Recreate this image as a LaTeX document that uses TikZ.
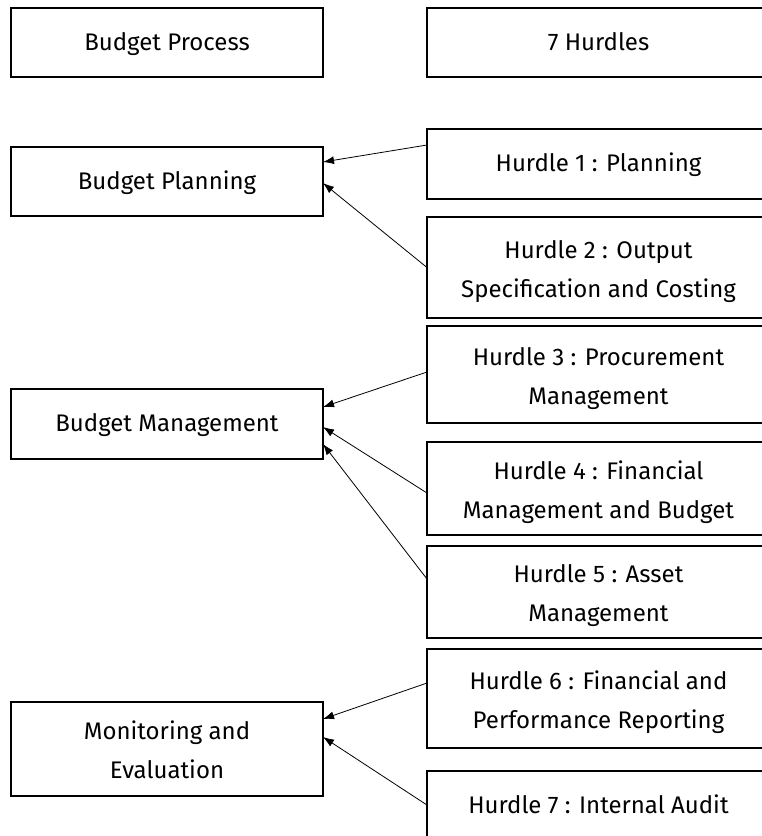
\documentclass[tikz,border=0pt]{standalone}
\usepackage{fontspec}
\setmainfont{Fira Sans}
\usetikzlibrary{arrows.meta}
\begin{document}
\begin{tikzpicture}[x=1pt,y=-1pt,
  box/.style={draw=black, line width=1.1pt, inner sep=0pt, outer sep=0pt,
    align=center, font=\fontsize{24}{39}\selectfont,
    text height=59pt, text depth=0pt},
  oneline/.style={text height=17pt, text depth=2pt},
  lbox/.style={box, minimum width=312pt},
  rbox/.style={box, minimum width=343pt},
  feed/.style={draw=black, line width=0.8pt, -{Latex[length=11pt,width=8pt]}}]
\useasboundingbox (0,0) rectangle (762,836);
\clip (0,0) rectangle (762,836);
\fill[white] (0,0) rectangle (762,836);

% Column headings
\node[lbox, oneline, minimum height=69pt] (bp) at (167,42.5) {Budget Process};
\node[rbox, oneline, minimum height=69pt] (hd) at (598.5,42.5) {7 Hurdles};

% Stages of the budget process
\node[lbox, oneline, minimum height=69pt] (plan) at (167,181.5) {Budget Planning};
\node[lbox, oneline, minimum height=70pt] (mgmt) at (167,424) {Budget Management};
\node[lbox, minimum height=94pt] (mon) at (167,749) {Monitoring and\\Evaluation};

% The seven hurdles
\node[rbox, oneline, minimum height=70pt] (h1) at (598.5,164) {Hurdle 1 : Planning};
\node[rbox, minimum height=101pt] (h2) at (598.5,267.5) {Hurdle 2 : Output\\Specification and Costing};
\node[rbox, minimum height=97pt] (h3) at (598.5,374.5) {Hurdle 3 : Procurement\\Management};
\node[rbox, minimum height=93pt] (h4) at (598.5,488.5) {Hurdle 4 : Financial\\Management and Budget};
\node[rbox, minimum height=92pt] (h5) at (598.5,592) {Hurdle 5 : Asset\\Management};
\node[rbox, minimum height=99pt] (h6) at (598.5,698.5) {Hurdle 6 : Financial and\\Performance Reporting};
\node[rbox, oneline, minimum height=69pt] (h7) at (598.5,805.5) {Hurdle 7 : Internal Audit};

% Each hurdle feeds its stage
\draw[feed] ([yshift=19pt]h1.west) -- ([yshift=19.5pt]plan.east);
\draw[feed] (h2.west) -- ([yshift=-1.5pt]plan.east);
\draw[feed] ([yshift=2.5pt]h3.west) -- ([yshift=17pt]mgmt.east);
\draw[feed] ([yshift=-4.5pt]h4.west) -- ([yshift=-3pt]mgmt.east);
\draw[feed] ([yshift=13pt]h5.west) -- ([yshift=-20pt]mgmt.east);
\draw[feed] ([yshift=15.5pt]h6.west) -- ([yshift=30pt]mon.east);
\draw[feed] ([yshift=0.5pt]h7.west) -- ([yshift=12pt]mon.east);
\end{tikzpicture}
\end{document}
